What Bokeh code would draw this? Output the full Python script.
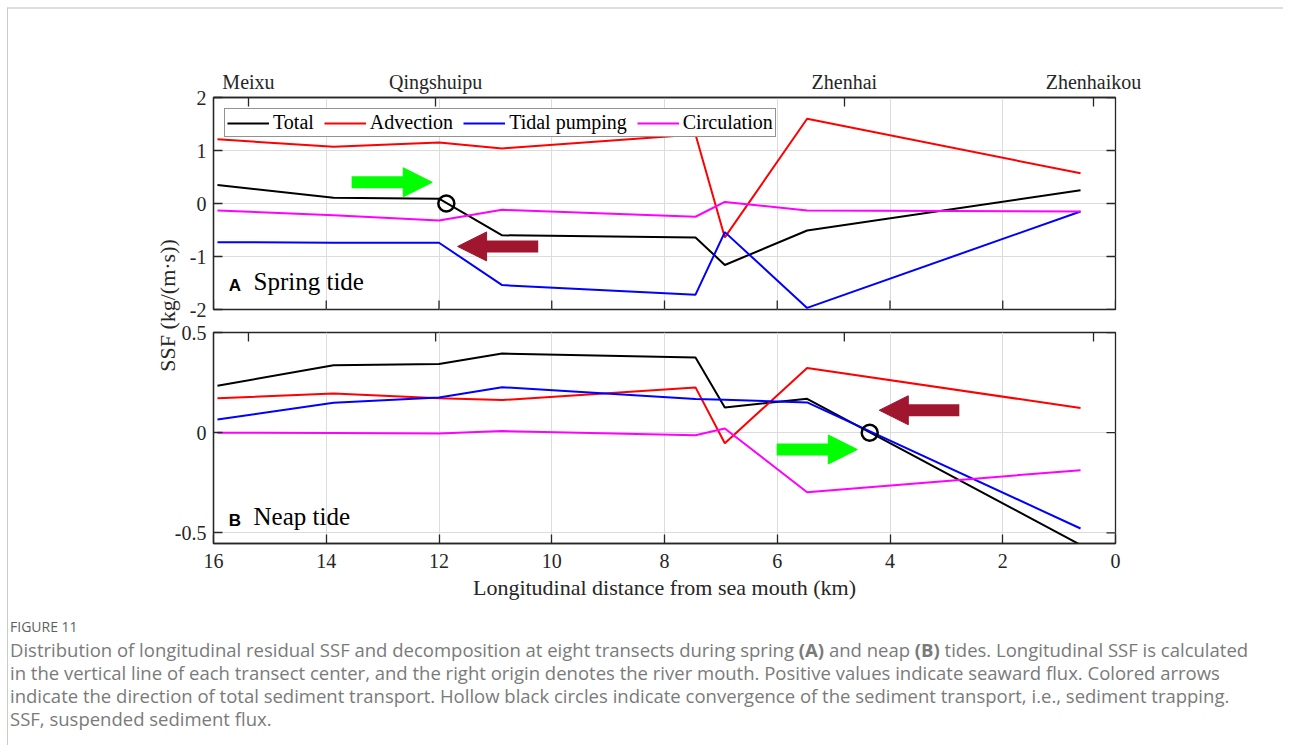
import math
from bokeh.plotting import figure
from bokeh.models import (Range1d, LinearAxis, FixedTicker, NumeralTickFormatter, Label,
                          Legend, LegendItem, Arrow, NormalHead, Div, Grid)
from bokeh.layouts import column, row
from bokeh.embed import file_html
from bokeh.resources import INLINE

# ---------------- data ----------------
distance_km = [15.93, 13.87, 12.0, 10.88, 7.45, 6.93, 5.47, 0.62]

spring_total = [0.35, 0.11, 0.09, -0.60, -0.64, -1.16, -0.51, 0.25]
spring_advection = [1.21, 1.07, 1.15, 1.04, 1.30, -0.64, 1.60, 0.57]
spring_pumping = [-0.73, -0.74, -0.74, -1.54, -1.72, -0.54, -1.97, -0.15]
spring_circulation = [-0.13, -0.22, -0.32, -0.12, -0.25, 0.03, -0.13, -0.15]

neap_total = [0.234, 0.337, 0.343, 0.395, 0.375, 0.126, 0.169, -0.56]
neap_advection = [0.172, 0.196, 0.172, 0.163, 0.226, -0.053, 0.323, 0.123]
neap_pumping = [0.066, 0.149, 0.176, 0.227, 0.168, 0.165, 0.151, -0.478]
neap_circulation = [0.0, -0.002, -0.004, 0.008, -0.013, 0.021, -0.297, -0.187]

series_names = ["Total", "Advection", "Tidal pumping", "Circulation"]
series_colors = ["#000000", "#FF0000", "#0000FF", "#FF00FF"]

station_names = ["Meixu", "Qingshuipu", "Zhenhai", "Zhenhaikou"]
station_km = [15.38, 12.06, 4.81, 0.39]

x_ticks = [0, 2, 4, 6, 8, 10, 12, 14, 16]
spring_y_ticks = [-2, -1, 0, 1, 2]
neap_y_ticks = [-0.5, 0, 0.5]

# sediment trapping points (hollow circles)
spring_trap_km = [11.87]
spring_trap_y = [0.0]
neap_trap_km = [4.36]
neap_trap_y = [0.0]

# transport direction arrows
spring_arrow_tail = [13.55, 10.24]
spring_arrow_tip = [12.12, 11.67]
spring_arrow_y = [0.40, -0.81]
neap_arrow_tail = [2.77, 6.01]
neap_arrow_tip = [4.19, 4.58]
neap_arrow_y = [0.112, -0.084]
arrow_colors_spring = ["#00FF00", "#A0162F"]
arrow_colors_neap = ["#A0162F", "#00FF00"]

# ---------------- style ----------------
SERIF = "Liberation Serif"
AX = "#262626"
FRAME_W = 902
PX_PER_KM = FRAME_W / 16.0
HEAD = 29
TICK = 9


def style_axis(ax, standoff=6):
    ax.major_tick_in = TICK
    ax.major_tick_out = 0
    ax.minor_tick_in = 0
    ax.minor_tick_out = 0
    ax.axis_line_color = AX
    ax.axis_line_width = 1.3
    ax.major_tick_line_color = AX
    ax.major_tick_line_width = 1.3
    ax.major_label_text_font = SERIF
    ax.major_label_text_font_size = "20px"
    ax.major_label_text_color = AX
    ax.major_label_standoff = standoff


def make_panel(frame_h, yr, yticks, yfmt, border_top, border_bottom,
               series, top_labels):
    p = figure(frame_width=FRAME_W, frame_height=frame_h,
               x_range=Range1d(16, 0), y_range=Range1d(*yr),
               x_axis_type=None, y_axis_type=None,
               output_backend="svg", toolbar_location=None,
               min_border_left=42, min_border_right=45,
               min_border_top=border_top, min_border_bottom=border_bottom)
    p.outline_line_color = AX
    p.outline_line_width = 1.3
    p.background_fill_color = "white"
    p.border_fill_color = None

    p.add_layout(Grid(dimension=0, ticker=FixedTicker(ticks=x_ticks),
                      grid_line_color="#dcdcdc", grid_line_width=1))
    p.add_layout(Grid(dimension=1, ticker=FixedTicker(ticks=yticks),
                      grid_line_color="#dcdcdc", grid_line_width=1))

    yl = LinearAxis(ticker=FixedTicker(ticks=yticks),
                    formatter=NumeralTickFormatter(format=yfmt))
    style_axis(yl, standoff=7)
    p.add_layout(yl, "left")

    ppu_y = frame_h / (yr[1] - yr[0])
    # inward ticks on the right side (no labels)
    p.segment(x0=[0] * len(yticks), y0=yticks, x1=[TICK / PX_PER_KM] * len(yticks), y1=yticks,
              line_color=AX, line_width=1.3)

    if top_labels:
        xt = LinearAxis(ticker=FixedTicker(ticks=station_km),
                        major_label_overrides={k: n for k, n in zip(station_km, station_names)})
        style_axis(xt, standoff=5)
        p.add_layout(xt, "above")
        # inward ticks at the bottom (no labels)
        p.segment(x0=x_ticks, y0=[yr[0]] * len(x_ticks), x1=x_ticks,
                  y1=[yr[0] + TICK / ppu_y] * len(x_ticks), line_color=AX, line_width=1.3)
    else:
        xb = LinearAxis(ticker=FixedTicker(ticks=x_ticks),
                        formatter=NumeralTickFormatter(format="0"))
        style_axis(xb, standoff=10)
        xb.axis_label = "Longitudinal distance from sea mouth (km)"
        xb.axis_label_text_font = SERIF
        xb.axis_label_text_font_size = "22px"
        xb.axis_label_text_font_style = "normal"
        xb.axis_label_text_color = AX
        xb.axis_label_standoff = 4
        p.add_layout(xb, "below")
        # inward station ticks at the top (no labels)
        p.segment(x0=station_km, y0=[yr[1]] * len(station_km), x1=station_km,
                  y1=[yr[1] - TICK / ppu_y] * len(station_km), line_color=AX, line_width=1.3)

    renderers = []
    for vals, col in zip(series, series_colors):
        r = p.line(distance_km, vals, line_color=col, line_width=2)
        renderers.append(r)
    return p, renderers


def add_arrows(p, tails, tips, ys, colors):
    head_km = (HEAD - 1) / PX_PER_KM
    bases = [tp + head_km if tl > tp else tp - head_km for tl, tp in zip(tails, tips)]
    p.segment(x0=tails, y0=ys, x1=bases, y1=ys, line_width=12,
              line_color=colors, line_cap="butt")
    for b, tp, y, c in zip(bases, tips, ys, colors):
        p.add_layout(Arrow(end=NormalHead(size=HEAD, fill_color=c, line_color=c, line_width=1),
                           x_start=b, y_start=y, x_end=tp, y_end=y,
                           line_alpha=0, line_width=0))


# ---------------- spring panel ----------------
H1_TOP, H1_FRAME, H1_BOT = 88, 212, 11
p1, r1 = make_panel(H1_FRAME, (-2, 2), spring_y_ticks, "0", H1_TOP, H1_BOT,
                    [spring_total, spring_advection, spring_pumping, spring_circulation],
                    top_labels=True)
add_arrows(p1, spring_arrow_tail, spring_arrow_tip, spring_arrow_y, arrow_colors_spring)
p1.scatter(spring_trap_km, spring_trap_y, marker="circle", size=16, fill_color=None,
           line_color="black", line_width=2.5)
legend = Legend(items=[LegendItem(label=n, renderers=[r]) for n, r in zip(series_names, r1)],
                orientation="horizontal", location="top_left", margin=11, padding=2,
                spacing=10, label_standoff=4, glyph_width=42, glyph_height=20,
                label_text_font=SERIF, label_text_font_size="20px", label_text_color="black",
                border_line_color=AX, border_line_width=1.3, background_fill_alpha=1)
p1.add_layout(legend)
p1.add_layout(Label(x=15.73, y=-1.735, text="A", text_font="Liberation Sans",
                    text_font_style="bold", text_font_size="17px", text_color="black"))
p1.add_layout(Label(x=15.29, y=-1.735, text="Spring tide", text_font=SERIF,
                    text_font_size="25px", text_color="black"))

# ---------------- neap panel ----------------
H2_TOP, H2_FRAME, H2_BOT = 12, 211, 62
p2, r2 = make_panel(H2_FRAME, (-0.553, 0.5), neap_y_ticks, "0.[0]", H2_TOP, H2_BOT,
                    [neap_total, neap_advection, neap_pumping, neap_circulation],
                    top_labels=False)
add_arrows(p2, neap_arrow_tail, neap_arrow_tip, neap_arrow_y, arrow_colors_neap)
p2.scatter(neap_trap_km, neap_trap_y, marker="circle", size=16, fill_color=None,
           line_color="black", line_width=2.5)
p2.add_layout(Label(x=15.73, y=-0.488, text="B", text_font="Liberation Sans",
                    text_font_style="bold", text_font_size="17px", text_color="black"))
p2.add_layout(Label(x=15.29, y=-0.488, text="Neap tide", text_font=SERIF,
                    text_font_size="25px", text_color="black"))

# ---------------- y label column ----------------
H_TOTAL = H1_TOP + H1_FRAME + H1_BOT + H2_TOP + H2_FRAME + H2_BOT
YL_W = 176
OVERLAP = 13
ylab = figure(width=YL_W, height=H_TOTAL, x_range=Range1d(0, YL_W), y_range=Range1d(0, H_TOTAL),
              x_axis_type=None, y_axis_type=None, output_backend="svg",
              toolbar_location=None, min_border=0, outline_line_color=None)
ylab.background_fill_color = None
ylab.border_fill_color = None
ylab.add_layout(Label(x=159, y=H_TOTAL - 296, text="SSF (kg/(m·s))", angle=math.pi / 2,
                      text_align="center", text_baseline="middle", text_font=SERIF,
                      text_font_size="22px", text_color=AX))

# ---------------- caption ----------------
cap_font = "'Open Sans', 'Noto Sans', sans-serif"
caption_html = (
    f'<div style="font-family:{cap_font};color:#5f5f5f;font-size:14px;line-height:18px;'
    f'margin-top:13px;padding-left:2px;white-space:nowrap;">FIGURE 11</div>'
    f'<div style="font-family:{cap_font};color:#7a7a7a;font-size:18.5px;line-height:23px;'
    f'margin-top:2px;padding-left:2px;white-space:nowrap;">'
    'Distribution of longitudinal residual SSF and decomposition at eight transects during spring '
    '<b>(A)</b> and neap <b>(B)</b> tides. Longitudinal SSF is calculated<br>'
    'in the vertical line of each transect center, and the right origin denotes the river mouth. '
    'Positive values indicate seaward flux. Colored arrows<br>'
    'indicate the direction of total sediment transport. Hollow black circles indicate convergence '
    'of the sediment transport, i.e., sediment trapping.<br>'
    'SSF, suspended sediment flux.</div>'
)
caption = Div(text=caption_html, width=1275, height=140, margin=0)

panels = column(p1, p2, styles={"margin-left": f"-{OVERLAP}px"})
root = column(row(ylab, panels), caption,
              styles={"border-top": "2px solid #dedede", "border-left": "1px solid #cccccc",
                      "margin-left": "7px", "margin-top": "7px"})

open("out.html", "w").write(file_html(root, INLINE))
